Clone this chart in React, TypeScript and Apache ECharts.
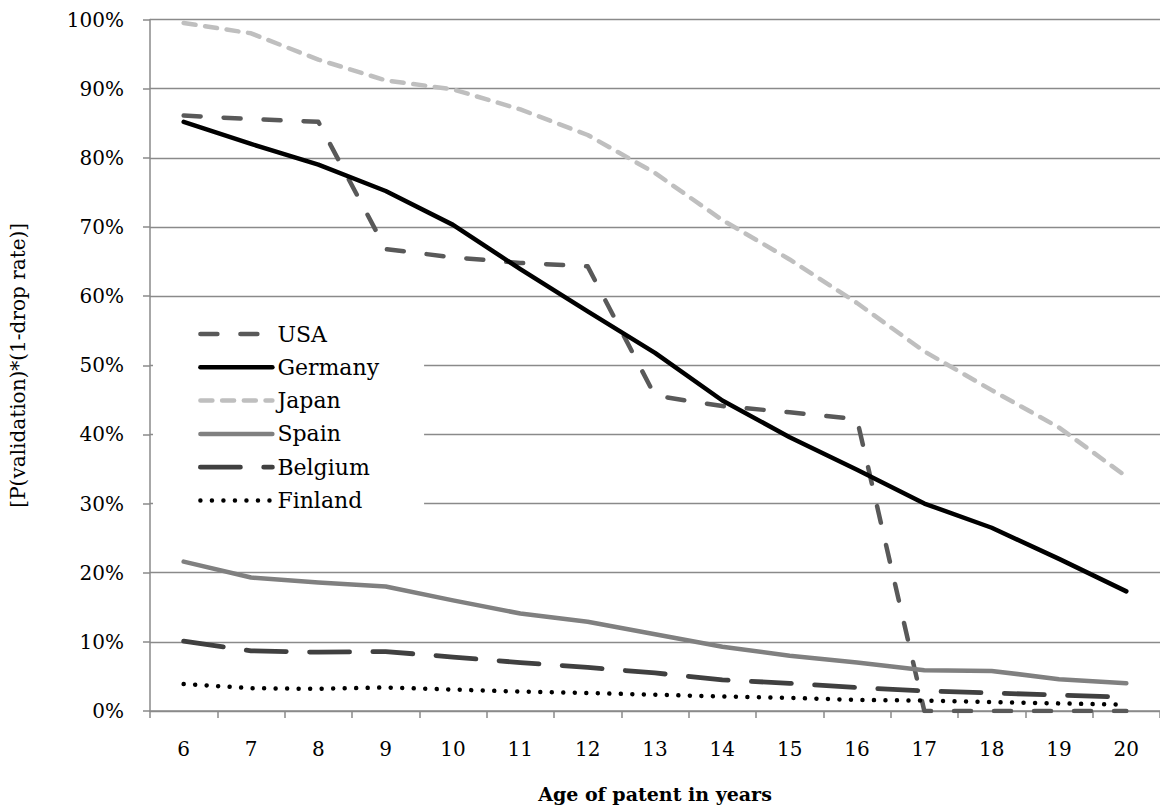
import React, { useEffect, useRef } from "react";
import * as echarts from "echarts";

const years = ["6", "7", "8", "9", "10", "11", "12", "13", "14", "15", "16", "17", "18", "19", "20"];
const usa = [86.1, 85.6, 85.2, 66.8, 65.6, 64.8, 64.3, 45.6, 44.1, 43.2, 42.2, 0, 0, 0, 0];
const germany = [85.2, 82.0, 79.0, 75.2, 70.3, 63.9, 57.8, 51.8, 44.9, 39.6, 34.9, 30.0, 26.5, 22.0, 17.3];
const japan = [99.5, 98.0, 94.2, 91.2, 89.9, 87.0, 83.3, 77.8, 71.0, 65.3, 59.0, 52.0, 46.4, 41.0, 33.9];
const spain = [21.6, 19.3, 18.6, 18.0, 16.0, 14.1, 12.9, 11.1, 9.3, 8.0, 7.0, 5.9, 5.8, 4.6, 4.0];
const belgium = [10.1, 8.7, 8.5, 8.6, 7.8, 7.0, 6.3, 5.5, 4.5, 4.0, 3.4, 2.9, 2.6, 2.3, 2.0];
const finland = [3.9, 3.3, 3.2, 3.4, 3.1, 2.8, 2.6, 2.35, 2.1, 1.9, 1.6, 1.5, 1.3, 1.1, 0.9];

const FONT = "DejaVu Serif";
const GRID = "#8a8a8a";

function mkSeries(name: string, data: number[], color: string, width: number, dash: any) {
  return {
    name,
    type: "line",
    data,
    symbol: "none",
    showSymbol: false,
    smooth: false,
    lineStyle: { color, width, type: dash, cap: "round", join: "round" },
    itemStyle: { color },
    emphasis: { disabled: true },
  };
}

export default function App() {
  const ref = useRef<HTMLDivElement>(null);
  useEffect(() => {
    const chart = echarts.init(ref.current!, null, { renderer: "svg" });
    chart.setOption({
      animation: false,
      backgroundColor: "#ffffff",
      grid: { left: 139, top: 19.5, width: 1027, height: 702, containLabel: false },
      xAxis: {
        type: "category",
        data: years,
        boundaryGap: true,
        name: "Age of patent in years",
        nameLocation: "middle",
        nameGap: 73,
        nameTextStyle: { fontFamily: FONT, fontSize: 19, fontWeight: "bold", color: "#000" },
        axisLine: { show: true, lineStyle: { color: GRID, width: 1.5 } },
        axisTick: { show: true, interval: 0, length: 7, inside: false, lineStyle: { color: GRID, width: 1.5 } },
        axisLabel: { fontFamily: FONT, fontSize: 20, color: "#000", margin: 28, interval: 0 },
        splitLine: { show: false },
      },
      yAxis: {
        type: "value",
        min: 0,
        max: 100,
        interval: 10,
        name: "[P(validation)*(1-drop rate)]",
        nameLocation: "middle",
        nameGap: 122,
        nameRotate: 90,
        nameTextStyle: { fontFamily: FONT, fontSize: 20, color: "#000" },
        axisLine: { show: true, lineStyle: { color: GRID, width: 1.5 } },
        axisTick: { show: true, length: 7, inside: false, lineStyle: { color: GRID, width: 1.5 } },
        axisLabel: { fontFamily: FONT, fontSize: 20, color: "#000", margin: 26, formatter: "{value}%" },
        splitLine: { show: true, lineStyle: { color: GRID, width: 1.3 } },
      },
      legend: {
        orient: "vertical",
        left: 153,
        top: 312,
        padding: [11, 45, 11, 45],
        backgroundColor: "#ffffff",
        itemWidth: 72,
        itemHeight: 24,
        itemGap: 11.3,
        textStyle: { fontFamily: FONT, fontSize: 22, color: "#000" },
        itemStyle: { opacity: 0, borderWidth: 0 },
        lineStyle: { width: "inherit" },
        data: ["USA", "Germany", "Japan", "Spain", "Belgium", "Finland"],
      },
      series: [
        mkSeries("USA", usa, "#595959", 4.5, [17, 23]),
        mkSeries("Germany", germany, "#000000", 4.5, "solid"),
        mkSeries("Japan", japan, "#bfbfbf", 4.5, [12, 9.7]),
        mkSeries("Spain", spain, "#808080", 4.5, "solid"),
        mkSeries("Belgium", belgium, "#404040", 4.8, [40, 23.3]),
        mkSeries("Finland", finland, "#000000", 4.5, [0.01, 11.5]),
      ],
    });
    return () => chart.dispose();
  }, []);
  return (
    <div
      ref={ref}
      style={{ position: "fixed", left: 0, top: 0, width: 1160, height: 808, overflow: "hidden", background: "#fff" }}
    />
  );
}
